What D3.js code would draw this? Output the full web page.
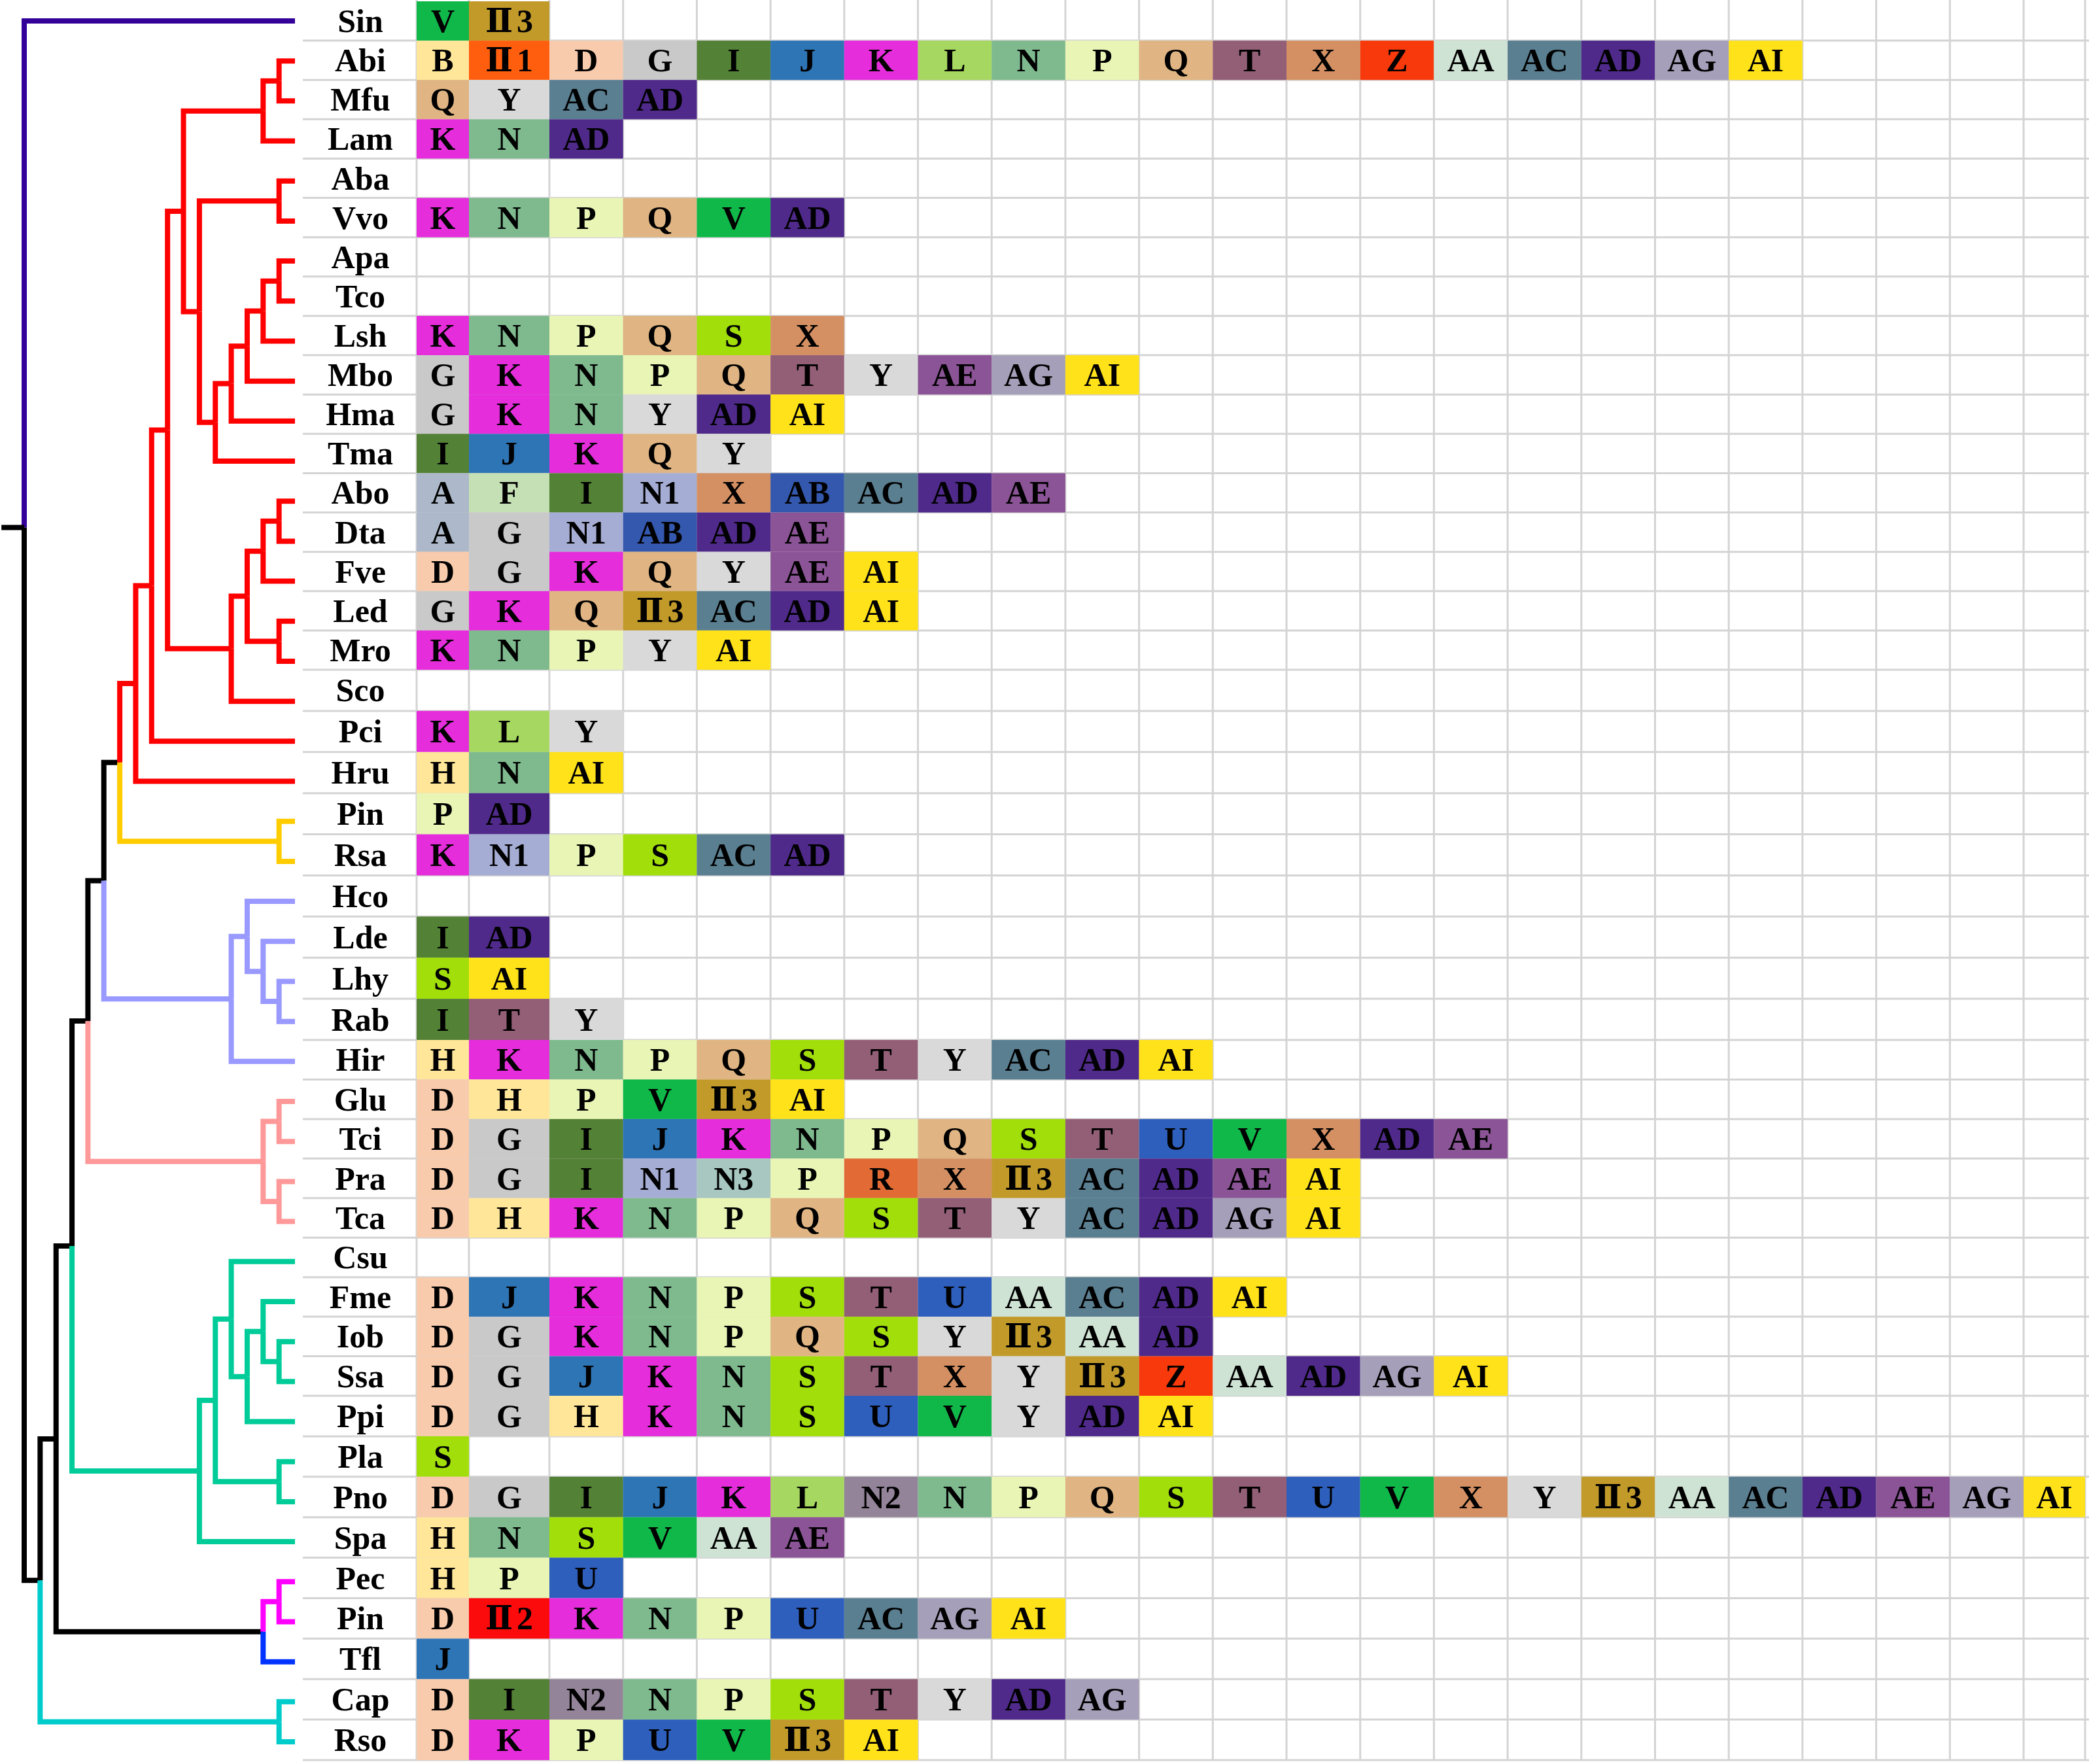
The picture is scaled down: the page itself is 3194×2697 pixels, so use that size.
<!DOCTYPE html>
<html>
<head>
<meta charset="utf-8">
<script src="https://cdn.jsdelivr.net/npm/d3@7"></script>
<style>
    body { margin: 0; background: #fff; }
    text { font-family: "Liberation Serif", "Times New Roman", "DejaVu Serif", serif; font-weight: bold; }
</style>
</head>
<body>
<div id="chart"></div>
<script>

// ---- data ----

// tree topology (newick pieces), internal labels name the coloured clades
const redA = "(((Abi,Mfu),Lam),((Aba,Vvo),(((((Apa,Tco),Lsh),Mbo),Hma),Tma)))";
const redB = "((((Abo,Dta),Fve),(Led,Mro)),Sco)";
const redClade = "(((" + redA + "," + redB + "),Pci),Hru)red";
const yellowClade = "(Pin,Rsa)yellow";
const lavenderClade = "((Hco,(Lde,(Lhy,Rab))),Hir)lavender";
const pinkClade = "((Glu,Tci),(Pra,Tca))pink";
const tealClade = "(((Csu,((Fme,(Iob,Ssa)),Ppi)),(Pla,Pno)),Spa)teal";
const pecClade = "((Pec,Pin)magenta,Tfl)";
const cyanClade = "(Cap,Rso)cyan";
const newick = "(Sin,((((((" + redClade + "," + yellowClade + ")," + lavenderClade + ")," +
    pinkClade + ")," + tealClade + ")," + pecClade + ")," + cyanClade + "));";

// edge colours by clade / tip name
const cladeColors = {
    Sin: "#330099", red: "#ff0000", yellow: "#ffcc00", lavender: "#9999ff",
    pink: "#ff9999", teal: "#00cc99", magenta: "#ff00ff", Tfl: "#0033ff", cyan: "#00cccc"
};
const rootRow = 12.66;     // vertical position of the root stub (tip units)
const rootEdge = 1.43;     // root edge length (levels)

// species rows, top to bottom
const species = ["Sin", "Abi", "Mfu", "Lam", "Aba", "Vvo", "Apa", "Tco", "Lsh", "Mbo", "Hma", "Tma",
    "Abo", "Dta", "Fve", "Led", "Mro", "Sco", "Pci", "Hru", "Pin", "Rsa", "Hco", "Lde", "Lhy", "Rab",
    "Hir", "Glu", "Tci", "Pra", "Tca", "Csu", "Fme", "Iob", "Ssa", "Ppi", "Pla", "Pno", "Spa", "Pec",
    "Pin", "Tfl", "Cap", "Rso"];

// gene family codes present in each row
const codes = [
    ["V", "Ⅱ3"],
    ["B", "Ⅱ1", "D", "G", "I", "J", "K", "L", "N", "P", "Q", "T", "X", "Z", "AA", "AC", "AD", "AG", "AI"],
    ["Q", "Y", "AC", "AD"],
    ["K", "N", "AD"],
    [],
    ["K", "N", "P", "Q", "V", "AD"],
    [],
    [],
    ["K", "N", "P", "Q", "S", "X"],
    ["G", "K", "N", "P", "Q", "T", "Y", "AE", "AG", "AI"],
    ["G", "K", "N", "Y", "AD", "AI"],
    ["I", "J", "K", "Q", "Y"],
    ["A", "F", "I", "N1", "X", "AB", "AC", "AD", "AE"],
    ["A", "G", "N1", "AB", "AD", "AE"],
    ["D", "G", "K", "Q", "Y", "AE", "AI"],
    ["G", "K", "Q", "Ⅱ3", "AC", "AD", "AI"],
    ["K", "N", "P", "Y", "AI"],
    [],
    ["K", "L", "Y"],
    ["H", "N", "AI"],
    ["P", "AD"],
    ["K", "N1", "P", "S", "AC", "AD"],
    [],
    ["I", "AD"],
    ["S", "AI"],
    ["I", "T", "Y"],
    ["H", "K", "N", "P", "Q", "S", "T", "Y", "AC", "AD", "AI"],
    ["D", "H", "P", "V", "Ⅱ3", "AI"],
    ["D", "G", "I", "J", "K", "N", "P", "Q", "S", "T", "U", "V", "X", "AD", "AE"],
    ["D", "G", "I", "N1", "N3", "P", "R", "X", "Ⅱ3", "AC", "AD", "AE", "AI"],
    ["D", "H", "K", "N", "P", "Q", "S", "T", "Y", "AC", "AD", "AG", "AI"],
    [],
    ["D", "J", "K", "N", "P", "S", "T", "U", "AA", "AC", "AD", "AI"],
    ["D", "G", "K", "N", "P", "Q", "S", "Y", "Ⅱ3", "AA", "AD"],
    ["D", "G", "J", "K", "N", "S", "T", "X", "Y", "Ⅱ3", "Z", "AA", "AD", "AG", "AI"],
    ["D", "G", "H", "K", "N", "S", "U", "V", "Y", "AD", "AI"],
    ["S"],
    ["D", "G", "I", "J", "K", "L", "N2", "N", "P", "Q", "S", "T", "U", "V", "X", "Y", "Ⅱ3", "AA", "AC", "AD", "AE", "AG", "AI"],
    ["H", "N", "S", "V", "AA", "AE"],
    ["H", "P", "U"],
    ["D", "Ⅱ2", "K", "N", "P", "U", "AC", "AG", "AI"],
    ["J"],
    ["D", "I", "N2", "N", "P", "S", "T", "Y", "AD", "AG"],
    ["D", "K", "P", "U", "V", "Ⅱ3", "AI"]
];

// cell colour per code
const codeNames = ["A", "B", "D", "F", "G", "H", "I", "J", "K", "L", "N", "N1", "N2", "N3", "P", "Q", "R", "S",
    "T", "U", "V", "X", "Y", "Z", "AA", "AB", "AC", "AD", "AE", "AG", "AI", "Ⅱ1", "Ⅱ2", "Ⅱ3"];
const codeColors = ["#adb9ca", "#ffe699", "#f8cbad", "#c5e0b4", "#c9c9c9", "#ffe699", "#538135", "#2e75b6",
    "#e52ddb", "#a6d760", "#7fba8f", "#a5add4", "#938499", "#a8c7c1", "#e9f5b5", "#e0b583", "#e26a35", "#a2de0a",
    "#935f77", "#2e5fbd", "#10b84a", "#d49063", "#d9d9d9", "#f7390b", "#cfe3d5", "#3458ad", "#5a7f91", "#4f2a8a",
    "#8b5496", "#a59fb9", "#ffe21a", "#ff5e0e", "#fb0b0b", "#c19a2a"];


class TreeHeatmap {

    constructor(parentElement) {
        this.parentElement = parentElement;
        this.initVis();
    }

    initVis() {
        let vis = this;

        vis.width = 3194;
        vis.height = 2697;

        vis.svg = d3.select("#" + vis.parentElement).append("svg")
            .attr("width", vis.width)
            .attr("height", vis.height)
            .style("display", "block");

        vis.svg.append("rect")
            .attr("width", vis.width)
            .attr("height", vis.height)
            .attr("fill", "#fff");

        // table rows (row heights in the original drift a little, hence the breakpoints)
        vis.y = d3.scaleLinear()
            .domain([0, 17, 26, 35, species.length])
            .range([2, 1024, 1590, 2134, 2691]);

        // tree tips are evenly spaced on their own
        vis.treeY = d3.scaleLinear()
            .domain([0, species.length - 1])
            .range([32, 2663]);

        // columns: first two are narrower/wider, last one is cut by the edge
        vis.x = d3.scaleLinear()
            .domain([0, 1, 2, 22, 23])
            .range([637, 717, 840, 3094, 3188]);

        // tree levels (node height -> x)
        vis.treeX = d3.scaleLinear()
            .domain([17, 0])
            .range([37, 451]);

        vis.color = d3.scaleOrdinal()
            .domain(codeNames)
            .range(codeColors);

        vis.labelX = 551;
        vis.gridLeft = 463;

        vis.wrangleData();
    }

    parseNewick(s) {
        let i = 0;
        function node() {
            const n = { children: [] };
            if (s[i] === "(") {
                i++;
                n.children.push(node());
                while (s[i] === ",") { i++; n.children.push(node()); }
                i++; // closing bracket
            }
            let name = "";
            while (i < s.length && !",();".includes(s[i])) name += s[i++];
            n.name = name;
            if (!n.children.length) delete n.children;
            return n;
        }
        return node();
    }

    wrangleData() {
        let vis = this;

        vis.root = d3.hierarchy(vis.parseNewick(newick));

        // tips follow the row order
        vis.root.leaves().forEach((leaf, i) => { leaf.row = i; });

        // internal node sits at the mean of its children
        vis.root.eachAfter(d => {
            if (d.children) d.row = d3.mean(d.children, c => c.row);
        });
        vis.root.row = rootRow;

        // edge colours inherited down each clade
        vis.root.eachBefore(d => {
            d.edgeColor = cladeColors[d.data.name] || (d.parent ? d.parent.edgeColor : "#000");
        });
        vis.root.edgeColor = "#000";

        vis.cells = [];
        codes.forEach((row, r) => {
            row.forEach((code, c) => vis.cells.push({ row: r, col: c, code: code }));
        });

        vis.updateVis();
    }

    updateVis() {
        let vis = this;
        const rowMid = r => vis.y(r + 0.5);
        const nCols = 23;

        // grid
        const grid = vis.svg.append("g")
            .attr("stroke", "#d4d4d4")
            .attr("stroke-width", 3);

        grid.selectAll(".hline")
            .data(d3.range(1, species.length + 1))
            .join("line")
            .attr("class", "hline")
            .attr("x1", vis.gridLeft)
            .attr("x2", vis.width)
            .attr("y1", d => vis.y(d))
            .attr("y2", d => vis.y(d));

        grid.selectAll(".vline")
            .data(d3.range(0, nCols + 1))
            .join("line")
            .attr("class", "vline")
            .attr("x1", d => vis.x(d))
            .attr("x2", d => vis.x(d))
            .attr("y1", 0)
            .attr("y2", vis.y(species.length));

        // coloured cells
        vis.svg.selectAll(".cell")
            .data(vis.cells)
            .join("rect")
            .attr("class", "cell")
            .attr("x", d => vis.x(d.col))
            .attr("y", d => vis.y(d.row))
            .attr("width", d => vis.x(d.col + 1) - vis.x(d.col))
            .attr("height", d => vis.y(d.row + 1) - vis.y(d.row))
            .attr("fill", d => vis.color(d.code));

        // labels; the roman numeral codes get a small gap before the digit
        const cellText = vis.svg.selectAll(".cellText")
            .data(vis.cells)
            .join("text")
            .attr("class", "cellText")
            .attr("x", d => (vis.x(d.col) + vis.x(d.col + 1)) / 2)
            .attr("y", d => rowMid(d.row) + 17)
            .attr("text-anchor", "middle")
            .style("font-size", "50px");

        cellText.filter(d => !d.code.startsWith("Ⅱ")).text(d => d.code);
        cellText.filter(d => d.code.startsWith("Ⅱ")).each(function (d) {
            const t = d3.select(this);
            t.append("tspan").text(d.code.slice(0, 1));
            t.append("tspan").attr("dx", 6).text(d.code.slice(1));
        });

        // species labels
        vis.svg.selectAll(".species")
            .data(species)
            .join("text")
            .attr("class", "species")
            .attr("x", vis.labelX)
            .attr("y", (d, i) => rowMid(i) + 17)
            .attr("text-anchor", "middle")
            .style("font-size", "50px")
            .text(d => d);

        // tree edges (elbow: vertical at parent, then horizontal to node)
        const edges = vis.svg.append("g")
            .attr("fill", "none")
            .attr("stroke-width", 8);

        edges.selectAll(".edge")
            .data(vis.root.descendants().slice(1))
            .join("path")
            .attr("class", "edge")
            .attr("stroke", d => d.edgeColor)
            .attr("d", d => "M" + vis.treeX(d.parent.height) + "," + vis.treeY(d.parent.row) +
                "V" + vis.treeY(d.row) + "H" + vis.treeX(d.height));

        // root stub
        edges.append("path")
            .attr("stroke", "#000")
            .attr("d", "M" + vis.treeX(vis.root.height + rootEdge) + "," + vis.treeY(vis.root.row) +
                "H" + vis.treeX(vis.root.height));
    }
}

new TreeHeatmap("chart");
</script>
</body>
</html>
